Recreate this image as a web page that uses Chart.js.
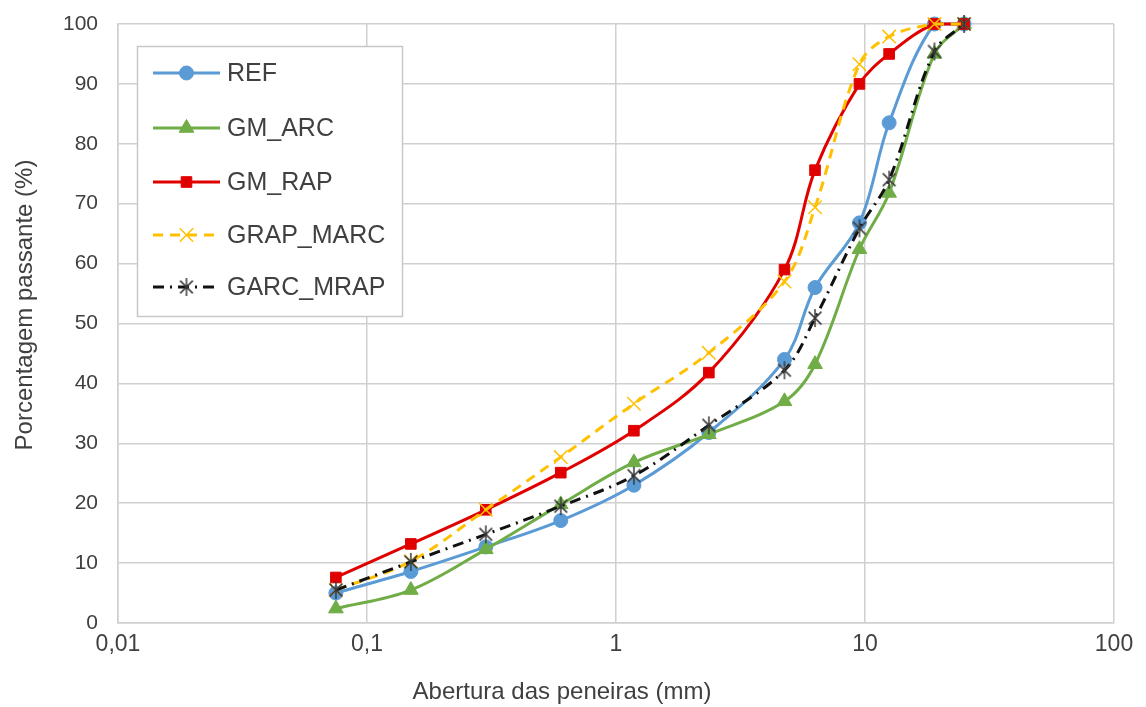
<!DOCTYPE html>
<html>
<head>
<meta charset="utf-8">
<script src="https://cdn.jsdelivr.net/npm/chart.js@4"></script>
<style>
html,body{margin:0;padding:0;background:#fff;}
#wrap{width:1146px;height:707px;position:relative;}
</style>
</head>
<body>
<div id="wrap"><canvas id="c" width="1146" height="707"></canvas></div>
<script>
// ---- data ----
const sieves = [0.075, 0.15, 0.3, 0.6, 1.18, 2.36, 4.75, 6.3, 9.5, 12.5, 19, 25];
const refVals = [5, 8.6, 12.7, 17.1, 23, 31.8, 44, 56, 66.8, 83.5, 100, 100];
const gmArcVals = [2.4, 5.5, 12.3, 19.8, 26.8, 31.5, 37, 43.2, 62.4, 71.8, 95, 100];
const gmRapVals = [7.6, 13.2, 18.9, 25.1, 32.1, 41.8, 59, 75.6, 90, 95, 100, 100];
const grapMarcVals = [5.5, 10.3, 18.9, 27.7, 36.6, 45.1, 57, 69.4, 93.3, 97.9, 100, 100];
const garcMrapVals = [5.5, 10.2, 14.8, 19.5, 24.6, 33, 42.2, 50.9, 65.9, 74, 95.4, 100];
const seriesNames = ['REF', 'GM_ARC', 'GM_RAP', 'GRAP_MARC', 'GARC_MRAP'];
const xTicks = [0.01, 0.1, 1, 10, 100];
const yTicks = [0, 10, 20, 30, 40, 50, 60, 70, 80, 90, 100];
const xTitle = 'Abertura das peneiras (mm)';
const yTitle = 'Porcentagem passante (%)';

// asterisk marker
function makeStar(color) {
  const s = 22, c = document.createElement('canvas');
  c.width = s; c.height = s;
  const g = c.getContext('2d');
  g.strokeStyle = color; g.lineWidth = 1.5;
  const r = 9, m = s / 2;
  g.beginPath();
  g.moveTo(m, m - r); g.lineTo(m, m + r);
  const d = r * Math.SQRT1_2;
  g.moveTo(m - d, m - d); g.lineTo(m + d, m + d);
  g.moveTo(m - d, m + d); g.lineTo(m + d, m - d);
  g.stroke();
  return c;
}
const starImg = makeStar('#3a3a3a');

function pts(vals) { return sieves.map((x, i) => ({x: x, y: vals[i]})); }

const styles = [
  {color: '#5B9BD5', point: 'circle', r: 7, dash: [], pbg: '#5B9BD5', pbc: '#5B9BD5', pbw: 1},
  {color: '#70AD47', point: 'triangle', r: 8.5, dash: [], pbg: '#70AD47', pbc: '#70AD47', pbw: 1},
  {color: '#E00000', point: 'rect', r: 7.5, dash: [], pbg: '#E00000', pbc: '#E00000', pbw: 1},
  {color: '#FFC000', point: 'crossRot', r: 9.5, dash: [10, 7], pbg: '#FFC000', pbc: '#FFC000', pbw: 1.5},
  {color: '#111111', point: starImg, r: 9, dash: [11, 6, 2, 6], pbg: '#3a3a3a', pbc: '#3a3a3a', pbw: 1.5}
];
const allVals = [refVals, gmArcVals, gmRapVals, grapMarcVals, garcMrapVals];

const datasets = allVals.map((v, i) => ({
  label: seriesNames[i],
  data: pts(v),
  borderColor: styles[i].color,
  backgroundColor: styles[i].color,
  borderWidth: 3,
  borderDash: styles[i].dash,
  pointStyle: styles[i].point,
  pointRadius: styles[i].r,
  pointBackgroundColor: styles[i].pbg,
  pointBorderColor: styles[i].pbc,
  pointBorderWidth: styles[i].pbw,
  tension: 0.35,
  order: 4 - i,
  clip: false,
  fill: false
}));

const textColor = '#404040';
const fontFam = "'Liberation Sans', Arial, sans-serif";

const overlay = {
  id: 'overlay',
  afterDraw(chart) {
    const ctx = chart.ctx;
    ctx.save();
    // axis titles
    ctx.fillStyle = textColor;
    ctx.font = '24px ' + fontFam;
    ctx.textAlign = 'center';
    ctx.textBaseline = 'middle';
    ctx.fillText(xTitle, 562, 692);
    ctx.save();
    ctx.translate(25, 305);
    ctx.rotate(-Math.PI / 2);
    ctx.fillText(yTitle, 0, 0);
    ctx.restore();
    // legend box
    const bx = 137.5, by = 46.5, bw = 265, bh = 270;
    ctx.fillStyle = '#ffffff';
    ctx.fillRect(bx, by, bw, bh);
    ctx.strokeStyle = '#C8C8C8';
    ctx.lineWidth = 1.5;
    ctx.strokeRect(bx, by, bw, bh);
    const rows = [73, 128, 182, 235, 287];
    chart.data.datasets.forEach((ds, i) => {
      const y = rows[i];
      ctx.save();
      ctx.strokeStyle = ds.borderColor;
      ctx.lineWidth = 3;
      ctx.setLineDash(ds.borderDash || []);
      ctx.beginPath();
      ctx.moveTo(153, y); ctx.lineTo(220, y);
      ctx.stroke();
      ctx.restore();
      ctx.save();
      ctx.fillStyle = ds.pointBackgroundColor;
      ctx.strokeStyle = ds.pointBorderColor;
      ctx.lineWidth = ds.pointBorderWidth;
      if (Chart.helpers && Chart.helpers.drawPoint) {
        Chart.helpers.drawPoint(ctx, {pointStyle: ds.pointStyle, radius: ds.pointRadius, borderWidth: ds.pointBorderWidth, rotation: 0}, 186.5, y);
      }
      ctx.restore();
      ctx.fillStyle = textColor;
      ctx.font = '25px ' + fontFam;
      ctx.textAlign = 'left';
      ctx.textBaseline = 'middle';
      ctx.fillText(ds.label, 227, y + 1);
    });
    ctx.restore();
  }
};

new Chart(document.getElementById('c'), {
  type: 'line',
  data: {datasets: datasets},
  options: {
    responsive: false,
    animation: false,
    devicePixelRatio: 1,
    layout: {padding: {top: 24, right: 32, left: 0, bottom: 0}},
    plugins: {legend: {display: false}, tooltip: {enabled: false}, title: {display: false}},
    elements: {line: {capBezierPoints: true}},
    scales: {
      x: {
        type: 'logarithmic',
        min: 0.01, max: 100,
        afterBuildTicks(s) { s.ticks = xTicks.map(v => ({value: v})); },
        afterFit(s) { s.height = 84; },
        ticks: {
          color: textColor,
          font: {family: fontFam, size: 23},
          padding: 8,
          autoSkip: false,
          maxRotation: 0,
          callback: v => String(v).replace('.', ',')
        },
        grid: {color: '#D0D0D0', lineWidth: 1.5, drawTicks: false},
        border: {color: '#D0D0D0', width: 1.5}
      },
      y: {
        type: 'linear',
        min: 0, max: 100,
        afterBuildTicks(s) { s.ticks = yTicks.map(v => ({value: v})); },
        afterFit(s) { s.width = 118; s.paddingTop = 8; s.paddingBottom = 8; },
        ticks: {
          color: textColor,
          font: {family: fontFam, size: 21},
          padding: 20
        },
        grid: {color: '#D0D0D0', lineWidth: 1.5, drawTicks: false},
        border: {color: '#D0D0D0', width: 1.5}
      }
    }
  },
  plugins: [overlay]
});
</script>
</body>
</html>
